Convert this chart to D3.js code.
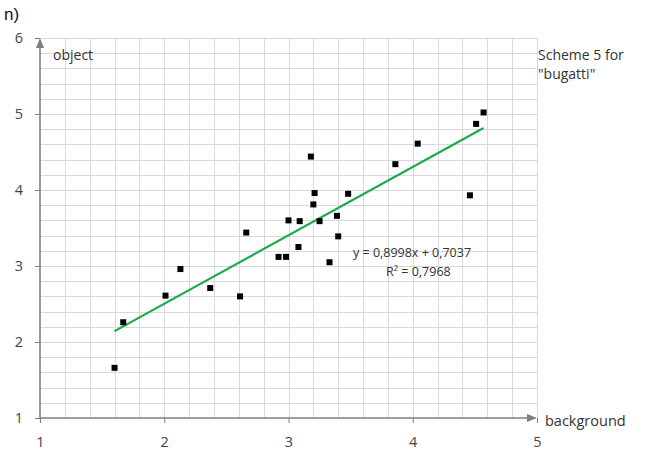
<!DOCTYPE html>
<html>
<head>
<meta charset="utf-8">
<script src="https://cdn.jsdelivr.net/npm/d3@7"></script>
<style>
  body { margin: 0; background: #fff; }
  svg { display: block; }
  text { fill: #333; }
</style>
</head>
<body>
<div id="chart"></div>
<script>
// values
const bgValues  = [1.60, 1.67, 2.01, 2.13, 2.37, 2.61, 2.66, 2.92, 2.98, 3.00,
                   3.18, 3.21, 3.48, 3.20, 3.09, 3.25, 3.39, 3.40, 3.08, 3.33,
                   3.86, 4.04, 4.51, 4.57, 4.46];
const objValues = [1.66, 2.26, 2.61, 2.96, 2.71, 2.60, 3.44, 3.12, 3.12, 3.60,
                   4.44, 3.96, 3.95, 3.81, 3.59, 3.59, 3.66, 3.39, 3.25, 3.05,
                   4.34, 4.61, 4.87, 5.02, 3.93];
const xTicks = [1, 2, 3, 4, 5];
const yTicks = [1, 2, 3, 4, 5, 6];
const slope = 0.8998, intercept = 0.7037;
const eqLabel = "y = 0,8998x + 0,7037";
const r2Label = "R² = 0,7968";

const width = 645, height = 450;
const margin = {left: 40, right: 108, top: 38, bottom: 32};

const svg = d3.select("#chart").append("svg")
  .attr("width", width).attr("height", height);

const x = d3.scaleLinear().domain([1, 5]).range([margin.left, width - margin.right]);
const y = d3.scaleLinear().domain([1, 6]).range([height - margin.bottom, margin.top]);

// grid every 0.2
const grid = svg.append("g").attr("stroke", "#d9d9d9").attr("stroke-width", 1);
grid.selectAll(".gx").data(d3.range(1.2, 5.01, 0.2)).enter().append("line")
  .attr("x1", d => Math.round(x(d)) + 0.5).attr("x2", d => Math.round(x(d)) + 0.5)
  .attr("y1", y(6)).attr("y2", y(1));
grid.selectAll(".gy").data(d3.range(1.2, 6.01, 0.2)).enter().append("line")
  .attr("y1", d => Math.round(y(d)) + 0.5).attr("y2", d => Math.round(y(d)) + 0.5)
  .attr("x1", x(1)).attr("x2", x(5));

// axes
const axisColor = "#7f7f7f";
const xAxis = svg.append("g").attr("transform", `translate(0,${y(1)})`)
  .call(d3.axisBottom(x).tickValues(xTicks).tickSize(5).tickPadding(14).tickFormat(d3.format("d")));
const yAxis = svg.append("g").attr("transform", `translate(${x(1)},0)`)
  .call(d3.axisLeft(y).tickValues(yTicks).tickSize(5).tickPadding(12).tickFormat(d3.format("d")));
[xAxis, yAxis].forEach(a => {
  a.select(".domain").remove();
  a.selectAll(".tick line").attr("stroke", axisColor);
  a.selectAll(".tick text").attr("font-family", "Open Sans, sans-serif")
    .attr("font-size", 14.5).style("fill", "#444");
});

svg.append("line").attr("x1", x(1)).attr("x2", x(5) - 6)
  .attr("y1", y(1)).attr("y2", y(1)).attr("stroke", axisColor).attr("stroke-width", 1.6);
svg.append("line").attr("x1", x(1)).attr("x2", x(1))
  .attr("y1", y(1)).attr("y2", y(6) + 6).attr("stroke", axisColor).attr("stroke-width", 1.6);
// arrow heads
svg.append("path")
  .attr("d", `M${x(5)},${y(1)} L${x(5) - 10},${y(1) - 4} L${x(5) - 10},${y(1) + 4} Z`)
  .attr("fill", axisColor);
svg.append("path")
  .attr("d", `M${x(1)},${y(6)} L${x(1) - 4},${y(6) + 10} L${x(1) + 4},${y(6) + 10} Z`)
  .attr("fill", axisColor);

// trend line
const xr = d3.extent(bgValues);
svg.append("line")
  .attr("x1", x(xr[0])).attr("y1", y(slope * xr[0] + intercept))
  .attr("x2", x(xr[1])).attr("y2", y(slope * xr[1] + intercept))
  .attr("stroke", "#1faa4f").attr("stroke-width", 2.2);

// points
svg.selectAll(".pt").data(bgValues).enter().append("rect")
  .attr("x", d => x(d) - 3)
  .attr("y", (d, i) => y(objValues[i]) - 3)
  .attr("width", 6).attr("height", 6).attr("fill", "#000");

// texts
const font = "Open Sans, sans-serif";
svg.append("text").attr("x", 4).attr("y", 20).attr("font-family", "Liberation Sans, Arial, sans-serif")
  .attr("font-size", 17).style("fill", "#111").text("n)");
svg.append("text").attr("x", 53).attr("y", 60).attr("font-family", font)
  .attr("font-size", 14).text("object");
svg.append("text").attr("x", 545).attr("y", 426).attr("font-family", font)
  .attr("font-size", 14.5).text("background");
svg.append("text").attr("x", 538).attr("y", 60).attr("font-family", font)
  .attr("font-size", 14).text("Scheme 5 for");
svg.append("text").attr("x", 538).attr("y", 79).attr("font-family", font)
  .attr("font-size", 14).text("\"bugatti\"");
svg.append("text").attr("x", 353).attr("y", 257).attr("font-family", font)
  .attr("font-size", 12.5).text(eqLabel);
svg.append("text").attr("x", 386).attr("y", 276).attr("font-family", font)
  .attr("font-size", 12.5).text(r2Label);
</script>
</body>
</html>
